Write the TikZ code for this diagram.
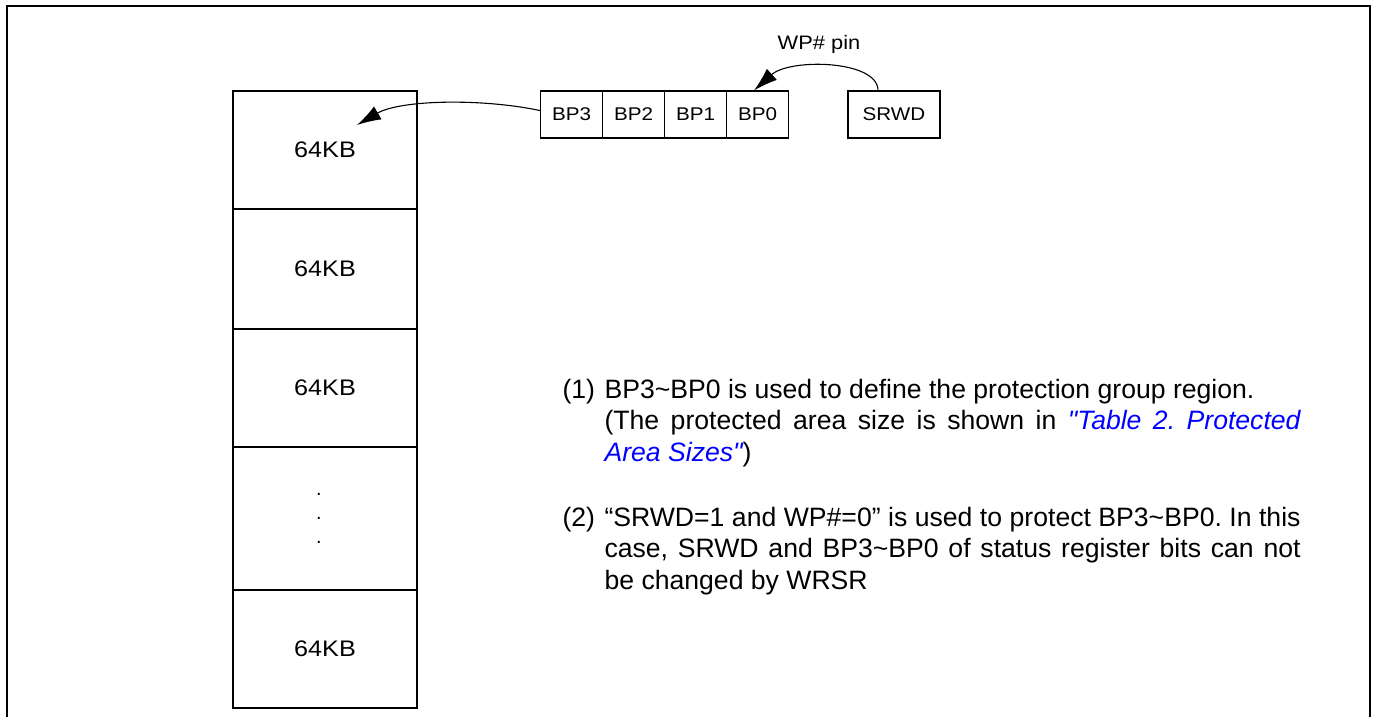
\documentclass[tikz,border=0pt]{standalone}
\usepackage{fontspec}
\setmainfont{Liberation Sans}
\newfontfamily\widefont[FakeStretch=1.12]{Liberation Sans}
\usetikzlibrary{arrows.meta}
\begin{document}
\frenchspacing
\begin{tikzpicture}[x=1pt,y=-1pt,
  line width=1.1pt,
  cell/.style={draw,minimum width=184pt,inner sep=0pt,font=\widefont\fontsize{22.5}{26}\selectfont},
  reg/.style={draw,minimum height=47pt,inner sep=0pt,font=\widefont\fontsize{18.4}{22}\selectfont},
  para/.style={anchor=base west,inner sep=0pt,text width=696pt,align=justify,
    font=\fontsize{26.6}{31.5}\selectfont},
  lbl/.style={anchor=base west,inner sep=0pt,font=\fontsize{26.6}{31.5}\selectfont},
  dot/.style={inner sep=0pt,font=\fontsize{20}{24}\selectfont},
  arr/.style={-{Latex[length=24pt,width=15pt]},line width=1.1pt}]
\useasboundingbox (0,0) rectangle (1374,717);
\draw[line width=2pt] (7,717) -- (7,6) -- (1370,6) -- (1370,717);
% memory column
\node[cell,minimum height=118pt] (c1) at (325,150) {64KB};
\node[cell,minimum height=120pt] (c2) at (325,269) {64KB};
\node[cell,minimum height=118pt] (c3) at (325,388) {64KB};
\node[cell,minimum height=143pt] (c4) at (325,518.5) {};
\node[cell,minimum height=118pt] (c5) at (325,649) {64KB};
\node[dot] (d1) at (319,494) {.};
\node[dot] (d2) at (319,518) {.};
\node[dot] (d3) at (319,542) {.};
% register bits
\node[reg,minimum width=62pt] (bp3) at (571.5,114.5) {BP3};
\node[reg,minimum width=62pt] (bp2) at (633.5,114.5) {BP2};
\node[reg,minimum width=62pt] (bp1) at (695.5,114.5) {BP1};
\node[reg,minimum width=62pt] (bp0) at (757.5,114.5) {BP0};
\node[reg,minimum width=92pt] (srwd) at (894,114.5) {SRWD};
\node[inner sep=0pt,font=\widefont\fontsize{19.5}{22}\selectfont,anchor=base] (wp) at (819,50) {WP\# pin};
\coordinate (t1) at (357,125);
\draw[arr] ([yshift=4pt]bp3.west) .. controls (480,98) and (400,100) .. (t1);
\draw[arr] ([xshift=-16pt]srwd.north) .. controls (878,60) and (790,58) .. ([xshift=-3.5pt]bp0.north);
% notes
\node[lbl] (n1) at (562,398) {(1)};
\node[para] (p1) at (604,398) {BP3\textasciitilde BP0 is used to define the protection group region.\\
(The protected area size is shown in {\color[rgb]{0,0,1}\itshape \textquotedbl Table 2. Protected}\linebreak
{\color[rgb]{0,0,1}\itshape Area Sizes\textquotedbl})};
\node[lbl] (n2) at (562,526) {(2)};
\node[para] (p2) at (604,526) {“SRWD=1 and WP\#=0” is used to protect BP3\textasciitilde BP0. In this\linebreak
case, SRWD and BP3\textasciitilde BP0 of status register bits can not\linebreak
be changed by WRSR};
\end{tikzpicture}
\end{document}
